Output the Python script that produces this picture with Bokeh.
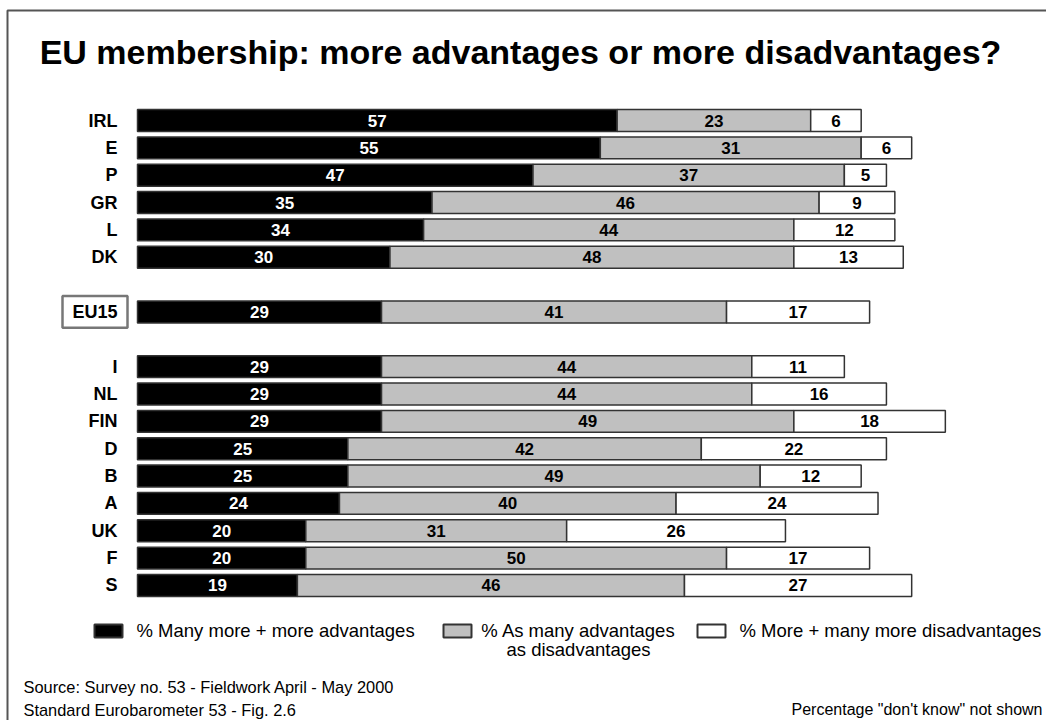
from bokeh.plotting import figure
from bokeh.models import ColumnDataSource, Range1d
from bokeh.core.properties import value
from bokeh.embed import file_html
from bokeh.resources import INLINE

# ---- data ----
countries = ["IRL", "E", "P", "GR", "L", "DK", "EU15", "I", "NL", "FIN", "D", "B", "A", "UK", "F", "S"]
advantages = [57, 55, 47, 35, 34, 30, 29, 29, 29, 29, 25, 25, 24, 20, 20, 19]
as_many = [23, 31, 37, 46, 44, 48, 41, 44, 44, 49, 42, 49, 40, 31, 50, 46]
disadvantages = [6, 6, 5, 9, 12, 13, 17, 11, 16, 18, 22, 12, 24, 26, 17, 27]
series_labels = ["% Many more + more advantages", "% As many advantages\nas disadvantages",
                 "% More + many more disadvantages"]
title_text = "EU membership: more advantages or more disadvantages?"
source_lines = ["Source:  Survey no. 53 - Fieldwork April - May 2000",
                "Standard Eurobarometer 53 - Fig. 2.6"]
note_text = 'Percentage "don\'t know" not shown'

W, H = 1046, 720
X0, SX = 137.0, 8.415      # pixel of value 0, pixels per percentage point
Y0, SY = 120.0, 27.35      # pixel of first row, pixels per row slot

def X(px):
    return (px - X0) / SX

def Y(py):
    return (py - Y0) / SY

p = figure(width=W, height=H, output_backend="svg", toolbar_location=None,
           x_axis_type=None, y_axis_type=None, min_border=0,
           x_range=Range1d(X(0), X(W)), y_range=Range1d(Y(H), Y(0)))
p.outline_line_color = None
p.grid.visible = False
p.background_fill_color = "white"
p.border_fill_color = "white"

FONT = value("Liberation Sans")

# page frame
p.quad(left=[X(7)], right=[X(1060)], top=[Y(10)], bottom=[Y(740)],
       fill_alpha=0, line_color="#555555", line_width=2)

# row slots: gap after DK and after EU15
slots = [i + (1 if i >= 6 else 0) + (1 if i >= 7 else 0) for i in range(len(countries))]

l1 = [0] * len(countries)
r1 = advantages
l2 = r1
r2 = [a + b for a, b in zip(advantages, as_many)]
l3 = r2
r3 = [a + b + c for a, b, c in zip(advantages, as_many, disadvantages)]

src = ColumnDataSource(dict(
    y=slots, l1=l1, r1=r1, l2=l2, r2=r2, l3=l3, r3=r3,
    c1=[(a + b) / 2 for a, b in zip(l1, r1)],
    c2=[(a + b) / 2 for a, b in zip(l2, r2)],
    c3=[(a + b) / 2 for a, b in zip(l3, r3)],
    t1=[str(v) for v in advantages],
    t2=[str(v) for v in as_many],
    t3=[str(v) for v in disadvantages],
))

BH = 0.8
p.hbar(y="y", left="l1", right="r1", height=BH, source=src,
       fill_color="black", line_color="#333333", line_width=1.5)
p.hbar(y="y", left="l2", right="r2", height=BH, source=src,
       fill_color="#c0c0c0", line_color="#333333", line_width=1.5)
p.hbar(y="y", left="l3", right="r3", height=BH, source=src,
       fill_color="white", line_color="#333333", line_width=1.5)

num_kw = dict(source=src, text_font=FONT, text_font_size="17px", text_font_style="bold",
              text_align="center", text_baseline="middle")
p.text(x="c1", y="y", text="t1", text_color="white", **num_kw)
p.text(x="c2", y="y", text="t2", text_color="black", **num_kw)
p.text(x="c3", y="y", text="t3", text_color="black", **num_kw)

# country labels (EU15 boxed and centred)
eu_i = countries.index("EU15")
p.quad(left=[X(62)], right=[X(127)], top=[slots[eu_i] - 0.58], bottom=[slots[eu_i] + 0.58],
       fill_color="white", line_color="#777777", line_width=2.5)
other = [i for i in range(len(countries)) if i != eu_i]
p.text(x=[X(117)] * len(other), y=[slots[i] for i in other], text=[countries[i] for i in other],
       text_font=FONT, text_font_size="18px", text_font_style="bold",
       text_align="right", text_baseline="middle", text_color="black")
p.text(x=[X(94.5)], y=[slots[eu_i]], text=[countries[eu_i]],
       text_font=FONT, text_font_size="18px", text_font_style="bold",
       text_align="center", text_baseline="middle", text_color="black")

# title
p.text(x=[X(520)], y=[Y(51)], text=[title_text], text_font=FONT, text_font_size="34px",
       text_font_style="bold", text_align="center", text_baseline="middle", text_color="black")

# legend
fills = ["black", "#c0c0c0", "white"]
box_l = [94, 443, 697]
text_x = [136, 578, 739]
for i in range(3):
    p.quad(left=[X(box_l[i])], right=[X(box_l[i] + 28)], top=[Y(624)], bottom=[Y(637)],
           fill_color=fills[i], line_color="#333333", line_width=2)
lines = series_labels[1].split("\n")
LF = "18.5px"
p.text(x=[X(text_x[0])], y=[Y(630)], text=[series_labels[0]], text_font=FONT, text_font_size=LF,
       text_align="left", text_baseline="middle", text_color="black")
p.text(x=[X(text_x[1]), X(text_x[1])], y=[Y(630), Y(649)], text=lines, text_font=FONT,
       text_font_size=LF, text_align="center", text_baseline="middle", text_color="black")
p.text(x=[X(text_x[2])], y=[Y(630)], text=[series_labels[2]], text_font=FONT, text_font_size=LF,
       text_align="left", text_baseline="middle", text_color="black")

# footer
p.text(x=[X(23), X(23)], y=[Y(686), Y(709)], text=source_lines, text_font=FONT,
       text_font_size="16.4px", text_align="left", text_baseline="middle", text_color="black")
p.text(x=[X(1042)], y=[Y(709)], text=[note_text], text_font=FONT, text_font_size="16px",
       text_align="right", text_baseline="middle", text_color="black")

open("out.html", "w").write(file_html(p, INLINE))
